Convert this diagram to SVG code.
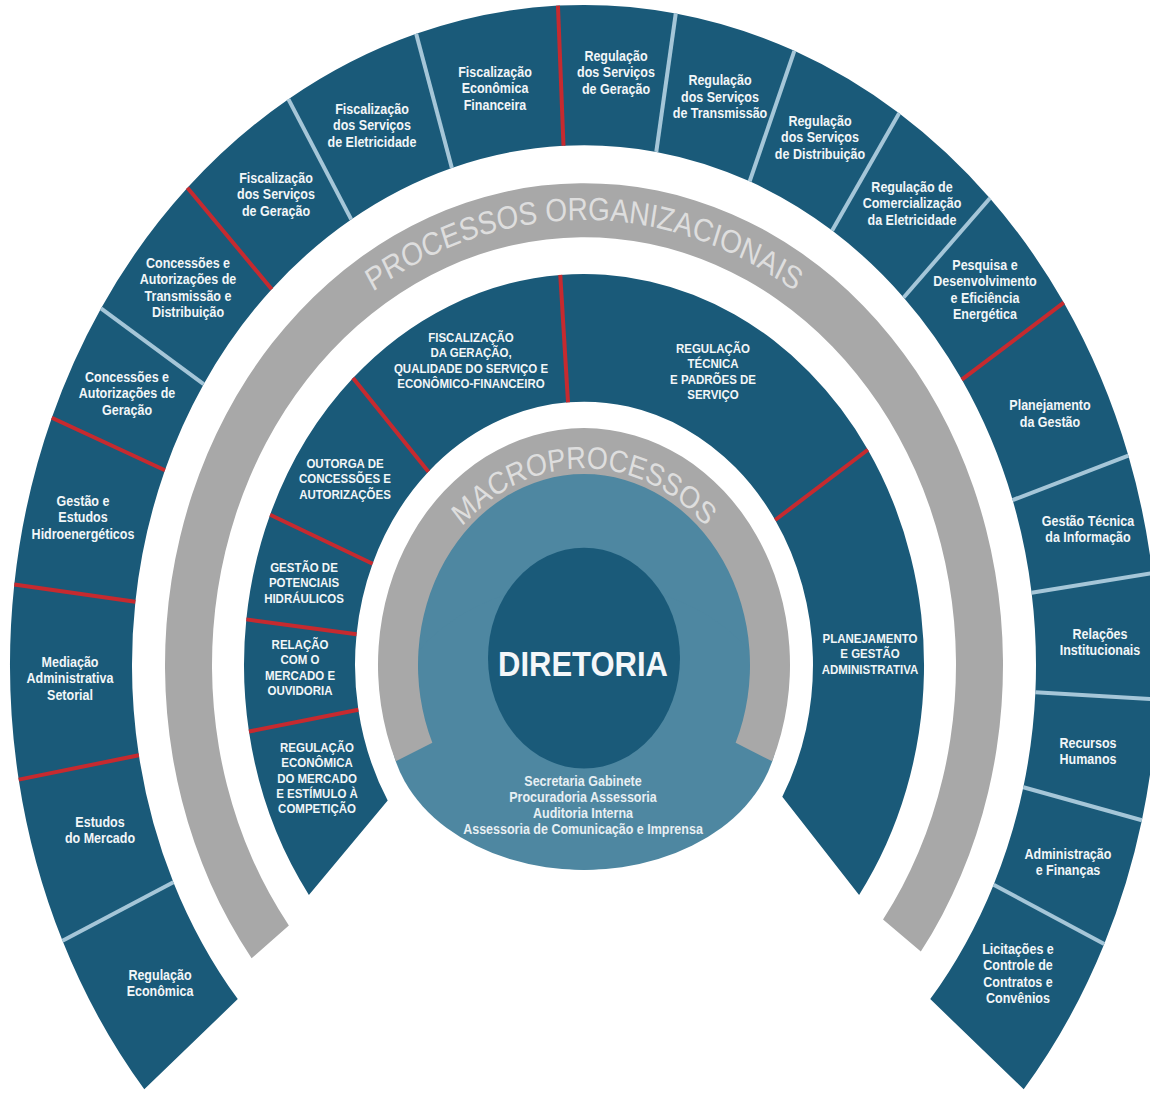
<svg xmlns="http://www.w3.org/2000/svg" width="1150" height="1093" viewBox="0 0 1150 1093">
<defs>
<style>
.blue{fill:#1a5a79}
.gray{fill:#a8a8a8}
.teal{fill:#4e87a1}
.red{stroke:#c62a2f;stroke-width:4;vector-effect:non-scaling-stroke;fill:none}
.lt{stroke:#a5c6d8;stroke-width:4;vector-effect:non-scaling-stroke;fill:none}
.lo{font-family:"Liberation Sans",Arial,sans-serif;font-weight:bold;font-size:12.5px;fill:#f2f6f8;text-anchor:middle}
.lm{font-family:"Liberation Sans",Arial,sans-serif;font-weight:bold;font-size:11.5px;fill:#f2f6f8;text-anchor:middle}
.ls{font-family:"Liberation Sans",Arial,sans-serif;font-weight:bold;font-size:12.5px;fill:#e8eff3;text-anchor:middle}
.big{font-family:"Liberation Sans",Arial,sans-serif;font-weight:bold;font-size:31px;fill:#f4f7f9;text-anchor:middle}
.arc{font-family:"Liberation Sans",Arial,sans-serif;fill:#dedede}
</style>
<path id="pPO" d="M -387 0 A 387 387 0 0 1 387 0"/>
<path id="pMP" d="M -171 0 A 171 171 0 0 1 171 0"/>
</defs>
<rect width="1150" height="1093" fill="#ffffff"/>
<g transform="translate(584 665) scale(1 1.15)">

<g id="processos-organizacionais">
<path class="gray" d="M -332.41 255.07 A 419 419 0 1 1 336.82 249.23 L 299.04 221.27 A 372 372 0 1 0 -295.13 226.46 Z"/>
<text class="arc" font-size="28"><textPath href="#pPO" startOffset="50%" text-anchor="middle">PROCESSOS ORGANIZACIONAIS</textPath></text>
</g>

<g id="diretoria">
<circle class="teal" cx="0" cy="0" r="178"/>
<ellipse class="teal" cx="0" cy="53.3" rx="194.1" ry="125"/>
<circle class="blue" cx="0" cy="-6" r="96"/>
<text class="big" x="-1" y="9.6">DIRETORIA</text>
<text class="ls" x="-1" y="105.2"><tspan x="-1">Secretaria Gabinete</tspan><tspan x="-1" dy="13.9">Procuradoria Assessoria</tspan><tspan x="-1" dy="13.9">Auditoria Interna</tspan><tspan x="-1" dy="13.9">Assessoria de Comunicação e Imprensa</tspan></text>
</g>

<g id="macroprocessos">
<path class="gray" d="M -188.19 83.79 A 206 206 0 1 1 188.19 83.79 L 151.65 67.52 A 166 166 0 1 0 -151.65 67.52 Z"/>
<text class="arc" font-size="27"><textPath href="#pMP" startOffset="50%" text-anchor="middle">MACROPROCESSOS</textPath></text>
</g>

<!-- Middle ring: macroprocessos -->
<g id="m-regulacao-economica">
<path class="blue" d="M -275.1 199.9 A 340 340 0 0 1 -335.04 57.87 L -225.66 38.98 A 229 229 0 0 0 -196.3 117.9 Z"/>
<text class="lm" y="75.7"><tspan x="-267">REGULAÇÃO</tspan><tspan x="-267" dy="13.3">ECONÔMICA</tspan><tspan x="-267" dy="13.3">DO MERCADO</tspan><tspan x="-267" dy="13.3">E ESTÍMULO À</tspan><tspan x="-267" dy="13.3">COMPETIÇÃO</tspan></text>
</g>
<g id="m-relacao-mercado">
<path class="blue" d="M -335.04 57.87 A 340 340 0 0 1 -337.68 -39.67 L -227.44 -26.72 A 229 229 0 0 0 -225.66 38.98 Z"/>
<text class="lm" y="-13.9"><tspan x="-284">RELAÇÃO</tspan><tspan x="-284" dy="13.3">COM O</tspan><tspan x="-284" dy="13.3">MERCADO E</tspan><tspan x="-284" dy="13.3">OUVIDORIA</tspan></text>
</g>
<g id="m-gestao-potenciais">
<path class="blue" d="M -337.68 -39.67 A 340 340 0 0 1 -313.89 -130.66 L -211.42 -88 A 229 229 0 0 0 -227.44 -26.72 Z"/>
<text class="lm" y="-80.9"><tspan x="-280">GESTÃO DE</tspan><tspan x="-280" dy="13.3">POTENCIAIS</tspan><tspan x="-280" dy="13.3">HIDRÁULICOS</tspan></text>
</g>
<g id="m-outorga">
<path class="blue" d="M -313.89 -130.66 A 340 340 0 0 1 -231.01 -249.47 L -155.59 -168.02 A 229 229 0 0 0 -211.42 -88 Z"/>
<text class="lm" y="-171.3"><tspan x="-239">OUTORGA DE</tspan><tspan x="-239" dy="13.3">CONCESSÕES E</tspan><tspan x="-239" dy="13.3">AUTORIZAÇÕES</tspan></text>
</g>
<g id="m-fiscalizacao">
<path class="blue" d="M -231.01 -249.47 A 340 340 0 0 1 -23.72 -339.17 L -15.98 -228.44 A 229 229 0 0 0 -155.59 -168.02 Z"/>
<text class="lm" y="-280.9"><tspan x="-113">FISCALIZAÇÃO</tspan><tspan x="-113" dy="13.3">DA GERAÇÃO,</tspan><tspan x="-113" dy="13.3">QUALIDADE DO SERVIÇO E</tspan><tspan x="-113" dy="13.3">ECONÔMICO-FINANCEIRO</tspan></text>
</g>
<g id="m-regulacao-tecnica">
<path class="blue" d="M -23.72 -339.17 A 340 340 0 0 1 283.85 -187.16 L 191.18 -126.06 A 229 229 0 0 0 -15.98 -228.44 Z"/>
<text class="lm" y="-271.3"><tspan x="129">REGULAÇÃO</tspan><tspan x="129" dy="13.3">TÉCNICA</tspan><tspan x="129" dy="13.3">E PADRÕES DE</tspan><tspan x="129" dy="13.3">SERVIÇO</tspan></text>
</g>
<g id="m-planejamento">
<path class="blue" d="M 283.85 -187.16 A 340 340 0 0 1 275.1 199.9 L 198.3 114.5 A 229 229 0 0 0 191.18 -126.06 Z"/>
<text class="lm" y="-19.1"><tspan x="286">PLANEJAMENTO</tspan><tspan x="286" dy="13.3">E GESTÃO</tspan><tspan x="286" dy="13.3">ADMINISTRATIVA</tspan></text>
</g>

<!-- Outer ring: processos organizacionais -->
<g id="o-regulacao-economica">
<path class="blue" d="M -439.71 368.96 A 574 574 0 0 1 -521.48 239.86 L -410.65 188.88 A 452 452 0 0 0 -346.25 290.54 Z"/>
<text class="lo" y="273.9"><tspan x="-424">Regulação</tspan><tspan x="-424" dy="14.3">Econômica</tspan></text>
</g>
<g id="o-estudos-mercado">
<path class="blue" d="M -521.48 239.86 A 574 574 0 0 1 -565.28 99.68 L -445.13 78.49 A 452 452 0 0 0 -410.65 188.88 Z"/>
<text class="lo" y="140.9"><tspan x="-484">Estudos</tspan><tspan x="-484" dy="14.3">do Mercado</tspan></text>
</g>
<g id="o-mediacao">
<path class="blue" d="M -565.28 99.68 A 574 574 0 0 1 -569.72 -69.95 L -448.63 -55.09 A 452 452 0 0 0 -445.13 78.49 Z"/>
<text class="lo" y="1.7"><tspan x="-514">Mediação</tspan><tspan x="-514" dy="14.3">Administrativa</tspan><tspan x="-514" dy="14.3">Setorial</tspan></text>
</g>
<g id="o-gestao-estudos">
<path class="blue" d="M -569.72 -69.95 A 574 574 0 0 1 -532.2 -215.03 L -419.09 -169.32 A 452 452 0 0 0 -448.63 -55.09 Z"/>
<text class="lo" y="-138.3"><tspan x="-501">Gestão e</tspan><tspan x="-501" dy="14.3">Estudos</tspan><tspan x="-501" dy="14.3">Hidroenergéticos</tspan></text>
</g>
<g id="o-concessoes-geracao">
<path class="blue" d="M -532.2 -215.03 A 574 574 0 0 1 -483.03 -310.1 L -380.36 -244.19 A 452 452 0 0 0 -419.09 -169.32 Z"/>
<text class="lo" y="-246.1"><tspan x="-457">Concessões e</tspan><tspan x="-457" dy="14.3">Autorizações de</tspan><tspan x="-457" dy="14.3">Geração</tspan></text>
</g>
<g id="o-concessoes-transmissao">
<path class="blue" d="M -483.03 -310.1 A 574 574 0 0 1 -396.57 -414.98 L -312.28 -326.78 A 452 452 0 0 0 -380.36 -244.19 Z"/>
<text class="lo" y="-345.2"><tspan x="-396">Concessões e</tspan><tspan x="-396" dy="14.3">Autorizações de</tspan><tspan x="-396" dy="14.3">Transmissão e</tspan><tspan x="-396" dy="14.3">Distribuição</tspan></text>
</g>
<g id="o-fiscalizacao-geracao">
<path class="blue" d="M -396.57 -414.98 A 574 574 0 0 1 -295.63 -492.02 L -232.8 -387.44 A 452 452 0 0 0 -312.28 -326.78 Z"/>
<text class="lo" y="-419.1"><tspan x="-308">Fiscalização</tspan><tspan x="-308" dy="14.3">dos Serviços</tspan><tspan x="-308" dy="14.3">de Geração</tspan></text>
</g>
<g id="o-fiscalizacao-eletricidade">
<path class="blue" d="M -295.63 -492.02 A 574 574 0 0 1 -167.82 -548.92 L -132.15 -432.25 A 452 452 0 0 0 -232.8 -387.44 Z"/>
<text class="lo" y="-479.1"><tspan x="-212">Fiscalização</tspan><tspan x="-212" dy="14.3">dos Serviços</tspan><tspan x="-212" dy="14.3">de Eletricidade</tspan></text>
</g>
<g id="o-fiscalizacao-economica">
<path class="blue" d="M -167.82 -548.92 A 574 574 0 0 1 -26.04 -573.41 L -20.5 -451.53 A 452 452 0 0 0 -132.15 -432.25 Z"/>
<text class="lo" y="-511.3"><tspan x="-89">Fiscalização</tspan><tspan x="-89" dy="14.3">Econômica</tspan><tspan x="-89" dy="14.3">Financeira</tspan></text>
</g>
<g id="o-regulacao-geracao">
<path class="blue" d="M -26.04 -573.41 A 574 574 0 0 1 91.77 -566.62 L 72.27 -446.19 A 452 452 0 0 0 -20.5 -451.53 Z"/>
<text class="lo" y="-525.2"><tspan x="32">Regulação</tspan><tspan x="32" dy="14.3">dos Serviços</tspan><tspan x="32" dy="14.3">de Geração</tspan></text>
</g>
<g id="o-regulacao-transmissao">
<path class="blue" d="M 91.77 -566.62 A 574 574 0 0 1 210.37 -534.06 L 165.66 -420.55 A 452 452 0 0 0 72.27 -446.19 Z"/>
<text class="lo" y="-504.3"><tspan x="136">Regulação</tspan><tspan x="136" dy="14.3">dos Serviços</tspan><tspan x="136" dy="14.3">de Transmissão</tspan></text>
</g>
<g id="o-regulacao-distribuicao">
<path class="blue" d="M 210.37 -534.06 A 574 574 0 0 1 315.14 -479.75 L 248.16 -377.79 A 452 452 0 0 0 165.66 -420.55 Z"/>
<text class="lo" y="-468.7"><tspan x="236">Regulação</tspan><tspan x="236" dy="14.3">dos Serviços</tspan><tspan x="236" dy="14.3">de Distribuição</tspan></text>
</g>
<g id="o-regulacao-comercializacao">
<path class="blue" d="M 315.14 -479.75 A 574 574 0 0 1 405.88 -405.88 L 319.61 -319.61 A 452 452 0 0 0 248.16 -377.79 Z"/>
<text class="lo" y="-411.3"><tspan x="328">Regulação de</tspan><tspan x="328" dy="14.3">Comercialização</tspan><tspan x="328" dy="14.3">da Eletricidade</tspan></text>
</g>
<g id="o-pesquisa">
<path class="blue" d="M 405.88 -405.88 A 574 574 0 0 1 479.75 -315.14 L 377.79 -248.16 A 452 452 0 0 0 319.61 -319.61 Z"/>
<text class="lo" y="-343.5"><tspan x="401">Pesquisa e</tspan><tspan x="401" dy="14.3">Desenvolvimento</tspan><tspan x="401" dy="14.3">e Eficiência</tspan><tspan x="401" dy="14.3">Energética</tspan></text>
</g>
<g id="o-planejamento-gestao">
<path class="blue" d="M 479.75 -315.14 A 574 574 0 0 1 544.34 -182.13 L 428.64 -143.42 A 452 452 0 0 0 377.79 -248.16 Z"/>
<text class="lo" y="-221.7"><tspan x="466">Planejamento</tspan><tspan x="466" dy="14.3">da Gestão</tspan></text>
</g>
<g id="o-gestao-tecnica">
<path class="blue" d="M 544.34 -182.13 A 574 574 0 0 1 568.41 -79.88 L 447.6 -62.91 A 452 452 0 0 0 428.64 -143.42 Z"/>
<text class="lo" y="-120.9"><tspan x="504">Gestão Técnica</tspan><tspan x="504" dy="14.3">da Informação</tspan></text>
</g>
<g id="o-relacoes">
<path class="blue" d="M 568.41 -79.88 A 574 574 0 0 1 573.21 30.04 L 451.38 23.66 A 452 452 0 0 0 447.6 -62.91 Z"/>
<text class="lo" y="-22.6"><tspan x="516">Relações</tspan><tspan x="516" dy="14.3">Institucionais</tspan></text>
</g>
<g id="o-recursos-humanos">
<path class="blue" d="M 573.21 30.04 A 574 574 0 0 1 557.91 134.97 L 439.33 106.28 A 452 452 0 0 0 451.38 23.66 Z"/>
<text class="lo" y="72.2"><tspan x="504">Recursos</tspan><tspan x="504" dy="14.3">Humanos</tspan></text>
</g>
<g id="o-administracao">
<path class="blue" d="M 557.91 134.97 A 574 574 0 0 1 520.22 242.58 L 409.65 191.02 A 452 452 0 0 0 439.33 106.28 Z"/>
<text class="lo" y="168.7"><tspan x="484">Administração</tspan><tspan x="484" dy="14.3">e Finanças</tspan></text>
</g>
<g id="o-licitacoes">
<path class="blue" d="M 520.22 242.58 A 574 574 0 0 1 439.71 368.96 L 346.25 290.54 A 452 452 0 0 0 409.65 191.02 Z"/>
<text class="lo" y="251.3"><tspan x="434">Licitações e</tspan><tspan x="434" dy="14.3">Controle de</tspan><tspan x="434" dy="14.3">Contratos e</tspan><tspan x="434" dy="14.3">Convênios</tspan></text>
</g>

<g id="dividers">
<line class="lt" x1="-410.65" y1="188.88" x2="-521.48" y2="239.86"/>
<line class="red" x1="-445.13" y1="78.49" x2="-565.28" y2="99.68"/>
<line class="red" x1="-448.63" y1="-55.09" x2="-569.72" y2="-69.95"/>
<line class="red" x1="-419.09" y1="-169.32" x2="-532.2" y2="-215.03"/>
<line class="lt" x1="-380.36" y1="-244.19" x2="-483.03" y2="-310.1"/>
<line class="red" x1="-312.28" y1="-326.78" x2="-396.57" y2="-414.98"/>
<line class="lt" x1="-232.8" y1="-387.44" x2="-295.63" y2="-492.02"/>
<line class="lt" x1="-132.15" y1="-432.25" x2="-167.82" y2="-548.92"/>
<line class="red" x1="-20.5" y1="-451.53" x2="-26.04" y2="-573.41"/>
<line class="lt" x1="72.27" y1="-446.19" x2="91.77" y2="-566.62"/>
<line class="lt" x1="165.66" y1="-420.55" x2="210.37" y2="-534.06"/>
<line class="lt" x1="248.16" y1="-377.79" x2="315.14" y2="-479.75"/>
<line class="lt" x1="319.61" y1="-319.61" x2="405.88" y2="-405.88"/>
<line class="red" x1="377.79" y1="-248.16" x2="479.75" y2="-315.14"/>
<line class="lt" x1="428.64" y1="-143.42" x2="544.34" y2="-182.13"/>
<line class="lt" x1="447.6" y1="-62.91" x2="568.41" y2="-79.88"/>
<line class="lt" x1="451.38" y1="23.66" x2="573.21" y2="30.04"/>
<line class="lt" x1="439.33" y1="106.28" x2="557.91" y2="134.97"/>
<line class="lt" x1="409.65" y1="191.02" x2="520.22" y2="242.58"/>
<line class="red" x1="-225.66" y1="38.98" x2="-335.04" y2="57.87"/>
<line class="red" x1="-227.44" y1="-26.72" x2="-337.68" y2="-39.67"/>
<line class="red" x1="-211.42" y1="-88" x2="-313.89" y2="-130.66"/>
<line class="red" x1="-155.59" y1="-168.02" x2="-231.01" y2="-249.47"/>
<line class="red" x1="-15.98" y1="-228.44" x2="-23.72" y2="-339.17"/>
<line class="red" x1="191.18" y1="-126.06" x2="283.85" y2="-187.16"/>
</g>
</g>
</svg>
